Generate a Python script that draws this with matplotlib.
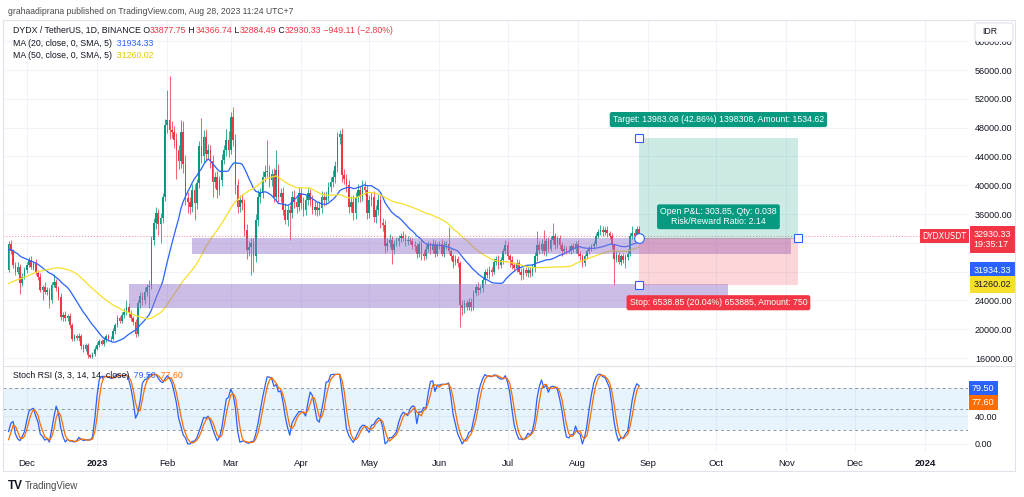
import numpy as np
import pandas as pd
import matplotlib
matplotlib.use('Agg')
import matplotlib.pyplot as plt
import matplotlib.dates as mdates
import matplotlib.transforms as mtransforms
from matplotlib.patches import Rectangle, FancyBboxPatch

plt.rcParams['font.family'] = ['Liberation Sans', 'DejaVu Sans']

# ---------------- data ----------------
# closes before the visible window (only used to warm up MA / Stoch RSI)
warmup_start = '2022-10-04'
warmup_close = [21800, 22100, 21900, 22300, 22000, 21700, 21900, 22200, 22400, 22100,
                21800, 22000, 21600, 21900, 22300, 22100, 21800, 22000, 22400, 22200,
                22600, 23200, 23800, 24100, 24600, 25300, 24900, 25800, 26500, 27400,
                28300, 30200, 32400, 33100, 31800, 32600, 31200, 30400, 31700, 32500,
                31900, 30800, 31500, 30600, 29900, 31000, 30300, 29600, 29200, 28200]

# visible daily closes, 2022-11-23 .. 2023-08-28 (IDR)
close = [31900, 30800, 28900, 28000, 28700, 26400, 27300, 28200, 28900, 29600,
         28700, 29200, 27800, 27300, 25400, 25900, 25200, 25400, 24100, 26100,
         26600, 25700, 24500, 21700, 22000, 21500, 21800, 20600, 18700, 19000,
         18800, 19100, 17600, 17300, 17800, 16400, 16200, 16600, 17300, 17800,
         18300, 18000, 18500, 19000, 18600, 18700, 19700, 20600, 21500, 21200,
         22000, 22400, 23100, 22200, 21500, 21000, 19400, 23600, 24600, 24000,
         25200, 25800, 26000, 32400, 34700, 36100, 34600, 35400, 38300, 48300,
         49100, 47700, 47400, 46300, 44900, 43300, 47400, 43000, 38200, 37700,
         37000, 39300, 37500, 40300, 45400, 44000, 46700, 44400, 44900, 43300,
         40500, 41200, 39300, 40700, 43500, 44900, 46300, 44900, 49500, 46300,
         40000, 37000, 37900, 37500, 33800, 31000, 31400, 32000, 30100, 35200,
         38400, 38900, 41200, 41900, 41900, 40700, 41600, 38400, 42100, 38400,
         38900, 36600, 35200, 36600, 36100, 38400, 37700, 37000, 38900, 37500,
         36600, 37900, 38900, 37900, 36600, 37000, 36600, 36800, 38400, 37900,
         38400, 39800, 40500, 41200, 42600, 46700, 47100, 41400, 40900, 40000,
         37000, 37700, 36100, 38400, 39300, 38400, 39800, 39300, 36100, 37900,
         38400, 35600, 36600, 37900, 34700, 34500, 31500, 32000, 32400, 31000,
         31900, 32200, 32600, 32900, 32700, 32200, 32400, 32200, 31700, 31500,
         30500, 31900, 30500, 30100, 31200, 31700, 31000, 31900, 30500, 31700,
         31900, 30500, 31700, 31900, 30800, 30100, 29400, 29800, 29200, 23400,
         22900, 23600, 23100, 23800, 23100, 25000, 25900, 25400, 25700, 26800,
         28000, 27500, 28200, 28000, 29400, 29800, 28900, 29600, 30800, 31700,
         30100, 29600, 28900, 28500, 29200, 28000, 27500, 28200, 27800, 28200,
         27800, 28500, 30100, 31700, 31000, 31900, 30800, 32200, 31200, 32400,
         32900, 31700, 32600, 31700, 30800, 31200, 31000, 31000, 31500, 31100,
         31900, 30500, 30100, 29200, 30100, 30800, 31100, 31500, 31900, 32900,
         33500, 33800, 33500, 33800, 33300, 32900, 31700, 29800, 30300, 29400,
         30100, 29600, 30000, 30500, 32900, 33300, 32900, 33877.75, 32930.33]

# wick length above / below the body
wick_up = [300, 500, 400, 500, 600, 400, 500, 400, 500, 400,
           500, 300, 600, 400, 500, 300, 600, 400, 300, 500,
           1100, 400, 300, 500, 400, 500, 300, 400, 300, 400,
           300, 400, 300, 400, 300, 300, 200, 300, 300, 400,
           300, 300, 400, 300, 400, 300, 400, 300, 500, 400,
           400, 500, 900, 500, 400, 300, 400, 500, 600, 500,
           600, 500, 800, 600, 800, 900, 600, 700, 600, 900,
           4100, 6000, 1200, 800, 900, 700, 1600, 1500, 1200, 900,
           700, 800, 900, 600, 800, 3900, 900, 1100, 800, 700,
           900, 700, 800, 600, 800, 700, 1500, 1200, 700, 1300,
           800, 900, 700, 900, 600, 800, 900, 700, 600, 800,
           900, 700, 800, 900, 4400, 900, 700, 800, 2800, 900,
           700, 800, 900, 700, 600, 800, 900, 700, 800, 700,
           800, 700, 900, 600, 700, 800, 700, 900, 800, 700,
           800, 700, 600, 900, 800, 700, 500, 800, 900, 700,
           700, 800, 900, 700, 800, 600, 900, 800, 700, 800,
           700, 800, 600, 900, 700, 800, 600, 700, 800, 600,
           500, 600, 500, 400, 700, 500, 600, 400, 500, 600,
           500, 400, 600, 500, 600, 500, 400, 600, 500, 400,
           400, 600, 500, 400, 2250, 500, 400, 500, 400, 300,
           600, 500, 400, 500, 600, 500, 400, 600, 500, 400,
           400, 500, 600, 400, 500, 400, 500, 400, 500, 700,
           500, 400, 500, 400, 600, 400, 500, 400, 500, 400,
           400, 500, 600, 2000, 500, 600, 1900, 500, 600, 500,
           1800, 500, 400, 500, 400, 500, 400, 500, 400, 500,
           400, 500, 400, 300, 400, 300, 400, 300, 400, 500,
           400, 700, 500, 400, 500, 400, 500, 300, 500, 400,
           400, 500, 400, 600, 500, 1000, 600, 500, 488.99]
wick_dn = [200, 300, 400, 500, 300, 1500, 400, 300, 400, 300,
           400, 500, 300, 400, 300, 1400, 300, 500, 1200, 400,
           300, 400, 500, 400, 500, 300, 400, 500, 400, 300,
           300, 400, 300, 500, 300, 400, 250, 200, 300, 200,
           300, 200, 300, 300, 300, 300, 200, 300, 300, 400,
           300, 400, 400, 500, 300, 400, 450, 300, 600, 700,
           500, 600, 2900, 400, 700, 800, 1500, 2600, 700, 500,
           1000, 1300, 800, 1200, 4000, 1000, 900, 1300, 1000, 1500,
           1000, 700, 2300, 800, 700, 900, 800, 1000, 700, 900,
           2100, 900, 1100, 700, 800, 600, 900, 1000, 600, 900,
           1200, 900, 700, 1000, 800, 1200, 900, 3900, 2100, 700,
           800, 900, 700, 800, 700, 900, 800, 700, 600, 800,
           800, 700, 600, 800, 3700, 700, 800, 900, 600, 800,
           900, 800, 700, 800, 600, 700, 900, 800, 700, 800,
           700, 600, 800, 700, 900, 800, 1000, 900, 800, 900,
           800, 700, 900, 800, 700, 800, 600, 700, 800, 700,
           800, 700, 900, 800, 700, 800, 900, 700, 600, 1900,
           500, 400, 600, 500, 400, 600, 500, 400, 500, 600,
           600, 500, 900, 500, 400, 500, 600, 400, 500, 400,
           500, 400, 500, 600, 400, 500, 950, 500, 600, 3050,
           900, 600, 500, 400, 600, 500, 400, 600, 400, 500,
           500, 400, 500, 600, 400, 500, 600, 400, 500, 400,
           400, 900, 500, 400, 500, 400, 700, 500, 400, 500,
           500, 400, 500, 600, 500, 400, 500, 600, 500, 400,
           500, 600, 400, 500, 600, 400, 500, 400, 500, 400,
           500, 400, 500, 500, 400, 300, 400, 300, 400, 300,
           300, 400, 500, 400, 500, 400, 500, 3660, 500, 400,
           500, 400, 1150, 400, 300, 400, 500, 600, 45.84]

# drawings: support / resistance zones
zone_start = ['2023-02-12', '2023-01-15']
zone_end = ['2023-11-03', '2023-10-06']
zone_low = [30400, 22940]
zone_high = [32710, 26280]

# long position tool
pos_start, pos_end = '2023-08-28', '2023-11-06'
entry_price, target_price, stop_price = 32627, 46610, 26088

# legend values shown by TradingView
day_change, day_change_pct = -949.11, -2.80
ma20_last, ma50_last = 31934.33, 31260.02
k_last, d_last = 79.50, 77.60
countdown = '19:35:17'

# price levels on the scale (the ones hidden behind the labels are left blank)
price_ticks = list(range(16000, 60001, 4000))
hidden_ticks = [28000, 32000]

# ---------------- calculations ----------------
all_close = pd.Series(warmup_close + close, dtype=float)
dates = pd.date_range(warmup_start, periods=len(all_close), freq='D')
xnum = mdates.date2num(dates)
nw = len(warmup_close)

opens = all_close.shift(1).fillna(all_close.iloc[0]).values[nw:]
closes = np.array(close, dtype=float)
highs = np.maximum(opens, closes) + np.array(wick_up)
lows = np.minimum(opens, closes) - np.array(wick_dn)
xv = xnum[nw:]

ma20 = all_close.rolling(20).mean().values[nw:]
ma50 = all_close.rolling(50).mean().values[nw:]

delta = all_close.diff()
gain = delta.clip(lower=0).ewm(alpha=1 / 14, adjust=False).mean()
loss = (-delta).clip(lower=0).ewm(alpha=1 / 14, adjust=False).mean()
rsi = 100 - 100 / (1 + gain / loss)
stoch = 100 * (rsi - rsi.rolling(14).min()) / (rsi.rolling(14).max() - rsi.rolling(14).min())
k_line = stoch.rolling(3).mean()
d_line = k_line.rolling(3).mean()
k_vis = k_line.values[nw:]
d_vis = d_line.values[nw:]

# ---------------- figure ----------------
W, H = 1024, 497
GREEN, RED, BLUE, YELLOW, ORANGE = '#089981', '#f23645', '#2962ff', '#f7e02b', '#ff6d00'
TXT = '#131722'
GRID = '#f0f3fa'

fig = plt.figure(figsize=(W / 100, H / 100), dpi=100)


def px_rect(x0, y0, x1, y1):
    return [x0 / W, 1 - y1 / H, (x1 - x0) / W, (y1 - y0) / H]


ax = fig.add_axes(px_rect(3, 20, 968, 366))
ax2 = fig.add_axes(px_rect(3, 366, 968, 452), sharex=ax)

jan1 = mdates.date2num(pd.Timestamp('2023-01-01'))
px_day = 2.268
ax.set_xlim(jan1 + (3 - 97) / px_day, jan1 + (968 - 97) / px_day)
pp = 4000 / 28.8
ax.set_ylim(56000 - (366 - 70) * pp, 56000 + (70 - 20) * pp)
sp = 60 / (430 - 388.3)
ax2.set_ylim(80 - (452 - 388.3) * sp, 80 + (388.3 - 366) * sp)

for a in (ax, ax2):
    for s in a.spines.values():
        s.set_visible(False)
    a.set_facecolor('white')

# grid + axes
months = pd.date_range('2022-12-01', '2024-01-01', freq='MS')
mlabels = [str(m.year) if m.month == 1 else m.strftime('%b') for m in months]
ax2.set_xticks(mdates.date2num(months))
ax2.set_xticklabels(mlabels)
for lab, m in zip(ax2.get_xticklabels(), months):
    if m.month == 1:
        lab.set_fontweight('bold')
ax2.tick_params(axis='x', length=0, pad=5, labelsize=6.8, labelcolor=TXT)
ax.tick_params(axis='x', length=0, labelbottom=False)

ax.set_yticks(price_ticks)
ax.set_yticklabels(['' if v in hidden_ticks else f'{v:.2f}' for v in price_ticks])
ax.yaxis.tick_right()
ax.tick_params(axis='y', length=0, pad=5, labelsize=6.5, labelcolor=TXT)
ax2.set_yticks([0, 40])
ax2.set_yticklabels(['0.00', '40.00'])
ax2.yaxis.tick_right()
ax2.tick_params(axis='y', length=0, pad=5, labelsize=6.5, labelcolor=TXT)
for a in (ax, ax2):
    a.grid(True, color=GRID, lw=0.8)
    a.set_axisbelow(True)

# candles
cols = np.where(closes >= opens, GREEN, RED)
ax.vlines(xv, lows, highs, colors=cols, lw=0.55, zorder=2)
ax.bar(xv, np.maximum(np.abs(closes - opens), 60), bottom=np.minimum(opens, closes),
       width=0.72, color=cols, lw=0, zorder=2)

ax.plot(xv, ma20, color=BLUE, lw=0.9, zorder=3)
ax.plot(xv, ma50, color=YELLOW, lw=0.9, zorder=3)
ax.axhline(closes[-1], color=RED, lw=0.7, ls=(0, (1, 2)), alpha=0.6, zorder=1)

# zones
for s, e, lo, hi in zip(zone_start, zone_end, zone_low, zone_high):
    x0 = mdates.date2num(pd.Timestamp(s))
    x1 = mdates.date2num(pd.Timestamp(e))
    ax.add_patch(Rectangle((x0, lo), x1 - x0, hi - lo, facecolor='#9575cd',
                           alpha=0.48, lw=0, zorder=4))

# position tool
p0 = mdates.date2num(pd.Timestamp(pos_start))
p1 = mdates.date2num(pd.Timestamp(pos_end))
ax.add_patch(Rectangle((p0, entry_price), p1 - p0, target_price - entry_price,
                       facecolor=GREEN, alpha=0.2, lw=0, zorder=4))
ax.add_patch(Rectangle((p0, stop_price), p1 - p0, entry_price - stop_price,
                       facecolor=RED, alpha=0.2, lw=0, zorder=4))
ax.plot([p0, p1], [entry_price, entry_price], color='#9598a1', lw=0.6, alpha=0.7, zorder=5)
ax.plot([p0, p1, p0], [target_price, entry_price, stop_price], ls='none', marker='s',
        ms=5.8, mfc='white', mec=BLUE, mew=0.8, zorder=6)
ax.plot([p0], [entry_price], ls='none', marker='o', ms=7, mfc='white', mec=BLUE,
        mew=0.8, zorder=7)

pc = (p0 + p1) / 2
lab_kw = dict(textcoords='offset points', ha='center', va='center', color='white',
              fontsize=6.3, zorder=8, annotation_clip=False)
ax.annotate('Target: 13983.08 (42.86%) 1398308, Amount: 1534.62', xy=(pc, target_price),
            xytext=(0, 13), bbox=dict(boxstyle='round,pad=0.35,rounding_size=0.25',
                                      fc=GREEN, ec='none'), **lab_kw)
ax.annotate('Open P&L: 303.85, Qty: 0.038\nRisk/Reward Ratio: 2.14', xy=(pc, entry_price),
            xytext=(0, 15.5), linespacing=1.1,
            bbox=dict(boxstyle='round,pad=0.35,rounding_size=0.25', fc=GREEN, ec='none'),
            **lab_kw)
ax.annotate('Stop: 6538.85 (20.04%) 653885, Amount: 750', xy=(pc, stop_price),
            xytext=(0, -12.5), bbox=dict(boxstyle='round,pad=0.35,rounding_size=0.25',
                                         fc=RED, ec='none'), **lab_kw)

# price scale labels
tr = mtransforms.blended_transform_factory(ax.transAxes, ax.transData)
box_kw = dict(xycoords=tr, textcoords='offset points', fontsize=6.5, zorder=10,
              annotation_clip=False)
ax.annotate('DYDXUSDT', xy=(0.9985, closes[-1]), xytext=(0, 0), ha='right', va='center',
            color='white', fontfamily='DejaVu Sans',
            bbox=dict(boxstyle='square,pad=0.3', fc=RED, ec='none'),
            **dict(box_kw, fontsize=5.8))
ax.annotate(f'{closes[-1]:.2f}\n{countdown}', xy=(1.006, closes[-1]), xytext=(0, 4.6),
            ha='left', va='top', color='white', linespacing=1.15,
            bbox=dict(boxstyle='square,pad=0.45', fc=RED, ec='none'), **box_kw)
ax.annotate(f'{ma20_last:.2f}', xy=(1.006, closes[-1]), xytext=(0, -25),
            ha='left', va='center', color='white',
            bbox=dict(boxstyle='square,pad=0.45', fc=BLUE, ec='none'), **box_kw)
ax.annotate(f'{ma50_last:.2f}', xy=(1.006, closes[-1]), xytext=(0, -34.8),
            ha='left', va='center', color=TXT,
            bbox=dict(boxstyle='square,pad=0.45', fc=YELLOW, ec='none'), **box_kw)

# stoch rsi panel
ax2.axhspan(20, 80, color='#2196f3', alpha=0.1, lw=0, zorder=1)
for lvl in (80, 50, 20):
    ax2.axhline(lvl, color='#9598a1', lw=0.7, ls=(0, (3, 3)), zorder=2)
ax2.plot(xv, k_vis, color=BLUE, lw=0.9, zorder=3)
ax2.plot(xv, d_vis, color=ORANGE, lw=0.9, zorder=3)
tr2 = mtransforms.blended_transform_factory(ax2.transAxes, ax2.transData)
box_kw2 = dict(box_kw, xycoords=tr2)
ax2.annotate(f'{k_last:.2f}', xy=(1.004, k_last), xytext=(0, 0), ha='left', va='center',
             color='white', bbox=dict(boxstyle='square,pad=0.35', fc=BLUE, ec='none'),
             **box_kw2)
ax2.annotate(f'{d_last:.2f}', xy=(1.004, k_last), xytext=(0, -9.8), ha='left', va='center',
             color='white', bbox=dict(boxstyle='square,pad=0.35', fc=ORANGE, ec='none'),
             **box_kw2)

# ---------------- overlay: frame, header, legends ----------------
ov = fig.add_axes([0, 0, 1, 1], zorder=5)
ov.set_xlim(0, W)
ov.set_ylim(H, 0)
ov.axis('off')
ov.add_patch(Rectangle((3, 20), 1012, 451, fill=False, ec='#e0e3eb', lw=0.8))
ov.plot([3, 1015], [366, 366], color='#e0e3eb', lw=0.8)
ov.add_patch(FancyBboxPatch((975, 23), 38, 18.5, boxstyle='round,pad=0,rounding_size=2.5',
                            fc='white', ec='#e0e3eb', lw=0.8))
ov.text(982, 31.5, 'IDR', fontsize=6.3, color=TXT, va='center', ha='left')

ov.text(8, 11, 'grahaadiprana published on TradingView.com, Aug 28, 2023 11:24 UTC+7',
        fontsize=6.2, color='#4a4a4a', va='center', ha='left')


def chain(x, y, parts, size=6.3):
    t = ov.text(x, y, parts[0][0], color=parts[0][1], fontsize=size, va='bottom', ha='left')
    for s, c in parts[1:]:
        t = ov.annotate(s, xy=(1, 0), xycoords=t, color=c, fontsize=size,
                        va='bottom', ha='left')
    return t


last = len(close) - 1
chain(13, 35, [('DYDX / TetherUS, 1D, BINANCE', TXT),
               (' O', TXT), (f'{opens[last]:.2f}', RED),
               (' H', TXT), (f'{highs[last]:.2f}', RED),
               (' L', TXT), (f'{lows[last]:.2f}', RED),
               (' C', TXT), (f'{closes[last]:.2f}', RED),
               (f' \u2212{abs(day_change):.2f} (\u2212{abs(day_change_pct):.2f}%)', RED)])
chain(13, 47.5, [('MA (20, close, 0, SMA, 5)', TXT), (f'  {ma20_last:.2f}', BLUE)])
chain(13, 59.5, [('MA (50, close, 0, SMA, 5)', TXT), (f'  {ma50_last:.2f}', '#e6c800')])
chain(13, 380.5, [('Stoch RSI (3, 3, 14, 14, close)', TXT), (f'  {k_last:.2f}', BLUE),
                  (f'  {d_last:.2f}', ORANGE)])

ov.text(8, 486, 'TV', fontsize=8.5, fontweight='bold', color=TXT, va='center', ha='left')
ov.text(25, 486, 'TradingView', fontsize=7, color='#4a4a4a', va='center', ha='left')

fig.savefig('out.png', dpi=100, facecolor='white')
